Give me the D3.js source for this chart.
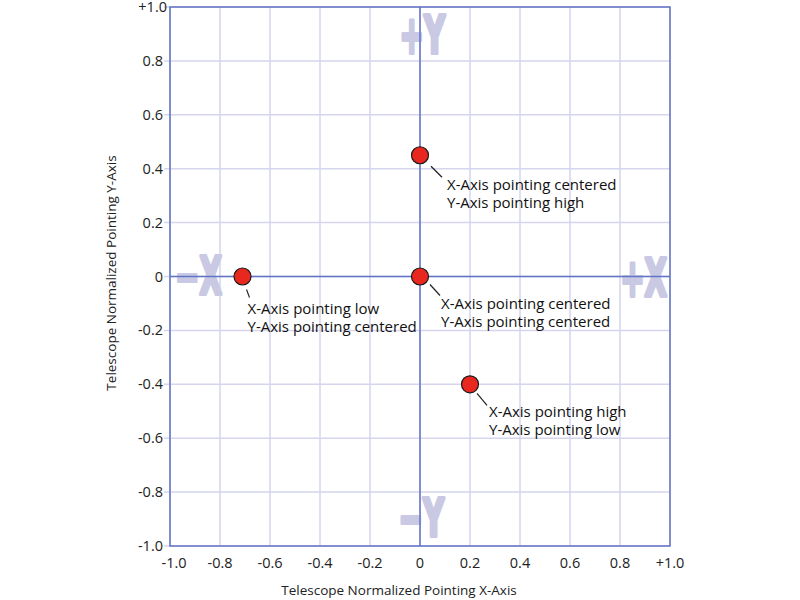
<!DOCTYPE html>
<html>
<head>
<meta charset="utf-8">
<script src="https://cdn.jsdelivr.net/npm/d3@7"></script>
<style>
  body { margin: 0; background: #fff; }
  text { font-family: "Open Sans", "Liberation Sans", sans-serif; }
</style>
</head>
<body>
<div id="chart"></div>
<script>
// pointing positions
var xVals = [0, -0.71, 0, 0.2];
var yVals = [0.45, 0, 0, -0.4];
var line1 = ["X-Axis pointing centered", "X-Axis pointing low", "X-Axis pointing centered", "X-Axis pointing high"];
var line2 = ["Y-Axis pointing high", "Y-Axis pointing centered", "Y-Axis pointing centered", "Y-Axis pointing low"];
var tickVals = [-1, -0.8, -0.6, -0.4, -0.2, 0, 0.2, 0.4, 0.6, 0.8, 1];
var tickLabels = ["-1.0", "-0.8", "-0.6", "-0.4", "-0.2", "0", "0.2", "0.4", "0.6", "0.8", "+1.0"];

var w = 800, h = 600;
var pLeft = 170, pRight = 670, pTop = 7, pBottom = 546;

var svg = d3.select("#chart").append("svg")
    .attr("width", w)
    .attr("height", h);

var x = d3.scaleLinear().domain([-1, 1]).range([pLeft, pRight]);
var y = d3.scaleLinear().domain([-1, 1]).range([pBottom, pTop]);

var gridColor = "#d5d5ee", axisColor = "#6274c4", bigColor = "#c9c9e3";

// grid
svg.append("g").selectAll("line")
    .data(tickVals).enter().append("line")
    .attr("x1", function(d) { return x(d); })
    .attr("x2", function(d) { return x(d); })
    .attr("y1", pTop).attr("y2", pBottom)
    .attr("stroke", gridColor).attr("stroke-width", 1.5);
svg.append("g").selectAll("line")
    .data(tickVals).enter().append("line")
    .attr("y1", function(d) { return y(d); })
    .attr("y2", function(d) { return y(d); })
    .attr("x1", pLeft - 6).attr("x2", pRight)
    .attr("stroke", gridColor).attr("stroke-width", 1.5);

// big direction letters (condensed by horizontal scaling, thickened by stroke)
var bigLetters = [
  { t: "+Y", px: x(0) + 25, py: y(1) + 46, anchor: "end" },
  { t: "\u2212Y", px: x(0) + 24, py: y(-1) - 10, anchor: "end" },
  { t: "\u2212X", px: x(-1) + 5, py: y(0) + 17, anchor: "start" },
  { t: "+X", px: x(1) - 3, py: y(0) + 19, anchor: "end" }
];
svg.append("g").selectAll("text")
    .data(bigLetters).enter().append("text")
    .attr("transform", function(d) { return "translate(" + d.px + "," + d.py + ") scale(0.56,1)"; })
    .attr("text-anchor", function(d) { return d.anchor; })
    .attr("fill", bigColor)
    .attr("stroke", bigColor)
    .attr("stroke-width", 4)
    .attr("stroke-linejoin", "round")
    .style("font-family", "'DejaVu Sans', sans-serif")
    .style("font-weight", "bold")
    .style("font-size", "52px")
    .text(function(d) { return d.t; });

// frame and zero axes
svg.append("rect")
    .attr("x", pLeft).attr("y", pTop)
    .attr("width", pRight - pLeft).attr("height", pBottom - pTop)
    .attr("fill", "none").attr("stroke", axisColor).attr("stroke-width", 1.5);
svg.append("line")
    .attr("x1", x(0)).attr("x2", x(0)).attr("y1", pTop).attr("y2", pBottom)
    .attr("stroke", axisColor).attr("stroke-width", 1.5);
svg.append("line")
    .attr("x1", pLeft).attr("x2", pRight).attr("y1", y(0)).attr("y2", y(0))
    .attr("stroke", axisColor).attr("stroke-width", 1.5);

// tick labels
svg.append("g").selectAll("text")
    .data(tickVals).enter().append("text")
    .attr("x", function(d, i) { return x(d) + (i === 0 ? 4 : 0); })
    .attr("y", pBottom + 22)
    .attr("text-anchor", "middle")
    .attr("font-size", 14.5)
    .attr("fill", "#222")
    .text(function(d, i) { return tickLabels[i]; });
svg.append("g").selectAll("text")
    .data(tickVals).enter().append("text")
    .attr("x", function(d, i) { return pLeft - 7 + (i === 10 ? 4 : 0); })
    .attr("y", function(d) { return y(d) + 5; })
    .attr("text-anchor", "end")
    .attr("font-size", 14.5)
    .attr("fill", "#222")
    .text(function(d, i) { return tickLabels[i]; });

// axis titles
svg.append("text")
    .attr("x", 399).attr("y", 595)
    .attr("text-anchor", "middle")
    .attr("font-size", 13.5).attr("fill", "#222")
    .text("Telescope Normalized Pointing X-Axis");
svg.append("text")
    .attr("transform", "translate(116,273) rotate(-90)")
    .attr("text-anchor", "middle")
    .attr("font-size", 13.5).attr("fill", "#222")
    .text("Telescope Normalized Pointing Y-Axis");

// annotation offsets (leader start/end, text origin) relative to point
var offs = [
  { lx1: 11, ly1: 11, lx2: 22, ly2: 22, tx: 27, ty: 35 },
  { lx1: 4, ly1: 13, lx2: 7, ly2: 21, tx: 5, ty: 37 },
  { lx1: 10, ly1: 8, lx2: 20, ly2: 19, tx: 21, ty: 32 },
  { lx1: 7, ly1: 9, lx2: 17, ly2: 21, tx: 19, ty: 33 }
];
var pts = xVals.map(function(d, i) { return i; });

var ann = svg.append("g").selectAll("g")
    .data(pts).enter().append("g");
ann.append("line")
    .attr("x1", function(i) { return x(xVals[i]) + offs[i].lx1; })
    .attr("y1", function(i) { return y(yVals[i]) + offs[i].ly1; })
    .attr("x2", function(i) { return x(xVals[i]) + offs[i].lx2; })
    .attr("y2", function(i) { return y(yVals[i]) + offs[i].ly2; })
    .attr("stroke", "#222").attr("stroke-width", 1.2);
ann.append("text")
    .attr("x", function(i) { return x(xVals[i]) + offs[i].tx; })
    .attr("y", function(i) { return y(yVals[i]) + offs[i].ty; })
    .attr("font-size", 15).attr("fill", "#111")
    .text(function(i) { return line1[i]; });
ann.append("text")
    .attr("x", function(i) { return x(xVals[i]) + offs[i].tx; })
    .attr("y", function(i) { return y(yVals[i]) + offs[i].ty + 18; })
    .attr("font-size", 15).attr("fill", "#111")
    .text(function(i) { return line2[i]; });

// points
svg.append("g").selectAll("circle")
    .data(pts).enter().append("circle")
    .attr("cx", function(i) { return x(xVals[i]); })
    .attr("cy", function(i) { return y(yVals[i]); })
    .attr("r", 8.5)
    .attr("fill", "#e8281f")
    .attr("stroke", "#1a1a1a")
    .attr("stroke-width", 1.2);
</script>
</body>
</html>
